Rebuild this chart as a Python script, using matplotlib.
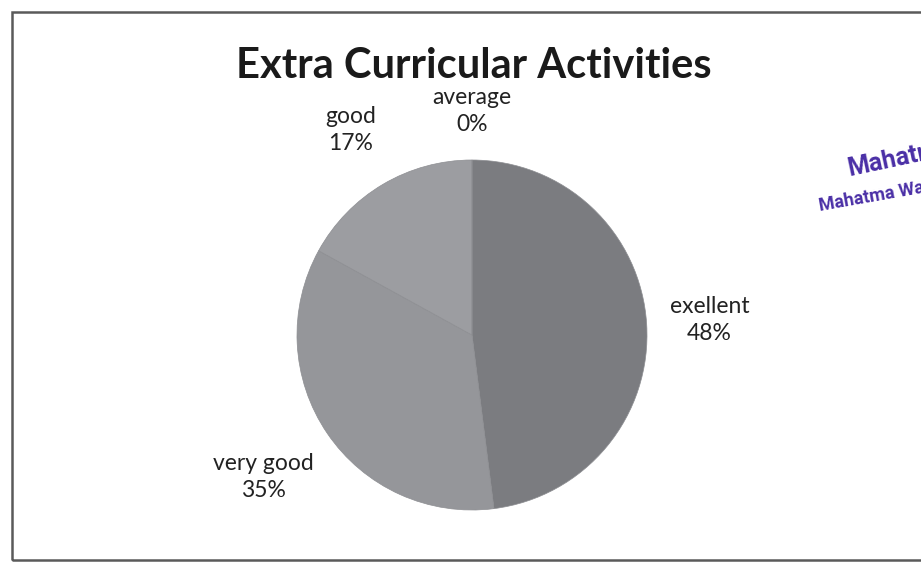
import numpy as np
import matplotlib.pyplot as plt
from matplotlib.patches import Rectangle

categories = ['exellent', 'very good', 'good', 'average']
values = [48, 35, 17, 0]
colors = ['#7b7c80', '#95969a', '#9c9da1', '#a4a5a9']
label_dist = [1.36, 1.44, 1.36, 1.28]

title = 'Extra Curricular Activities'

W, H = 921, 564
fig = plt.figure(figsize=(W / 100, H / 100), dpi=100)
fig.patch.set_facecolor('white')

# outer frame (scanned chart border, right edge runs off the page)
fig.patches.append(Rectangle((12 / W, 4 / H), 1.2, 548 / H, transform=fig.transFigure,
                             fill=False, edgecolor='#5a5a5a', linewidth=1.8))

# pie axes: centre (472, 335), radius 175 px
r = 175
cx, cy = 472, 335
ax = fig.add_axes([(cx - r) / W, (H - cy - r) / H, 2 * r / W, 2 * r / H])
wedges, _ = ax.pie(values, colors=colors, startangle=90, counterclock=False,
                   wedgeprops=dict(linewidth=0.5, edgecolor='#8d8e92'))
for w, c, v, d in zip(wedges, categories, values, label_dist):
    ang = np.deg2rad((w.theta1 + w.theta2) / 2)
    ax.text(d * np.cos(ang), d * np.sin(ang), '%s\n%d%%' % (c, v),
            ha='center', va='center', fontsize=16.5, family='Lato',
            color='#222222', linespacing=1.35)
ax.set_xlim(-1, 1)
ax.set_ylim(-1, 1)
ax.set_aspect('equal')

fig.text(474 / W, 1 - 66 / H, title, ha='center', va='center',
         fontsize=30, fontweight='bold', family='Lato', color='#1a1a1a')

# watermark, cut off at the right edge
fig.text(845 / W, 1 - 158 / H, 'Mahatma', rotation=12, ha='left', va='center',
         fontsize=18, fontweight='bold', family='Roboto', color='#4a2fa6')
fig.text(818 / W, 1 - 197 / H, 'Mahatma Wa', rotation=10, ha='left', va='center',
         fontsize=13, fontweight='bold', family='Roboto', color='#4a2fa6')

fig.savefig('out.png', dpi=100)
